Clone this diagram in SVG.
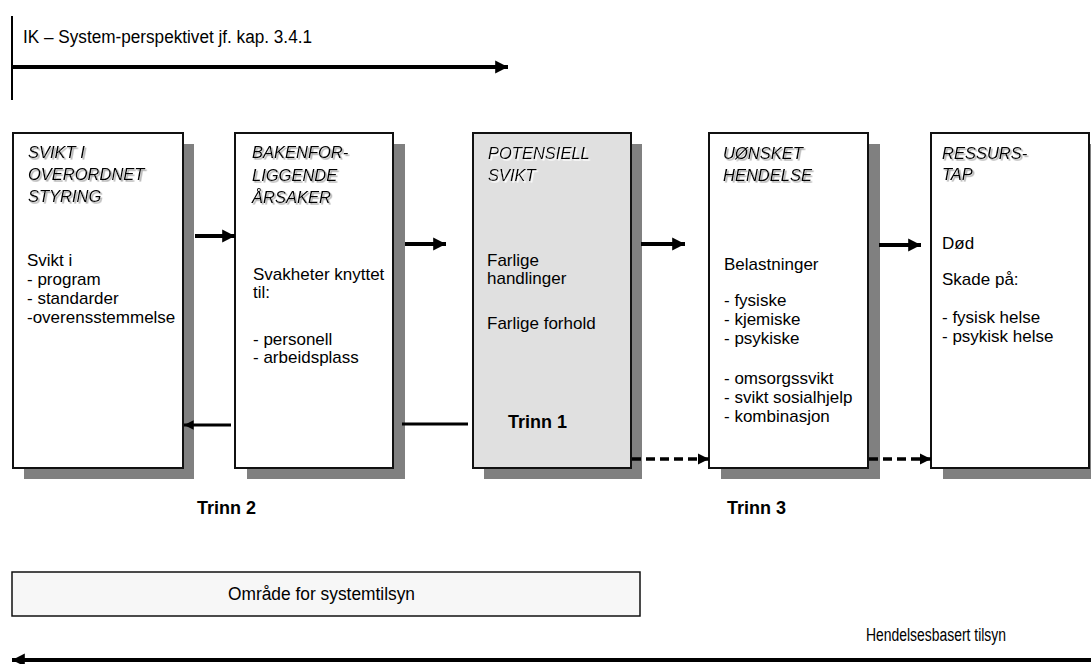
<svg xmlns="http://www.w3.org/2000/svg" width="1091" height="664" viewBox="0 0 1091 664">
  <defs>
    <marker id="head" viewBox="0 0 10 10" refX="10" refY="5" markerWidth="3.2" markerHeight="3.6" markerUnits="strokeWidth" orient="auto">
      <path d="M0,0 L10,5 L0,10 Z" fill="#000"/>
    </marker>
    <filter id="ts" x="-5%" y="-20%" width="115%" height="160%">
      <feDropShadow dx="1.6" dy="1.6" stdDeviation="0.5" flood-color="#a8a8a8"/>
    </filter>
    <filter id="tsw" x="-5%" y="-20%" width="115%" height="160%">
      <feDropShadow dx="1.6" dy="1.6" stdDeviation="0.5" flood-color="#ffffff"/>
    </filter>
  </defs>
  <style>
    text { font-family: "Liberation Sans", Arial, sans-serif; fill: #000; }
    .title { font-size: 16.5px; font-style: italic; filter: url(#ts); }
    .title-w { font-size: 16.5px; font-style: italic; filter: url(#tsw); }
    .body { font-size: 17px; }
    .step { font-size: 18px; font-weight: bold; }
    .label { font-size: 18px; }
    .shadow { fill: #808080; }
    .box { fill: #ffffff; stroke: #111; stroke-width: 2; }
    .box-grey { fill: #e0e0e0; stroke: #111; stroke-width: 2; }
    .arrow { stroke: #000; stroke-width: 4; fill: none; }
    .back { stroke: #000; stroke-width: 3; fill: none; }
    .dash { stroke: #000; stroke-width: 3.5; fill: none; stroke-dasharray: 9 5; }
  </style>
  <rect width="1091" height="664" fill="#fff"/>

  <!-- header: system perspective axis -->
  <g id="header">
    <line x1="12" y1="16" x2="12" y2="100" stroke="#000" stroke-width="2"/>
    <text x="23" y="43" class="label" textLength="289" lengthAdjust="spacingAndGlyphs">IK – System-perspektivet jf. kap. 3.4.1</text>
    <line x1="12" y1="67" x2="508" y2="67" class="arrow" marker-end="url(#head)"/>
  </g>

  <!-- stage boxes -->
  <g id="node-svikt">
    <rect x="24" y="144" width="170" height="335" class="shadow"/>
    <rect x="13" y="133" width="170" height="335" class="box"/>
    <text class="title"><tspan x="28" y="158">SVIKT I</tspan><tspan x="28" y="180">OVERORDNET</tspan><tspan x="28" y="202">STYRING</tspan></text>
    <text class="body"><tspan x="27" y="266">Svikt i</tspan><tspan x="27" y="285">- program</tspan><tspan x="27" y="304">- standarder</tspan><tspan x="27" y="323">-overensstemmelse</tspan></text>
  </g>

  <g id="node-bakenforliggende">
    <rect x="247" y="144" width="158" height="335" class="shadow"/>
    <rect x="235" y="133" width="158" height="335" class="box"/>
    <text class="title"><tspan x="252" y="158">BAKENFOR-</tspan><tspan x="252" y="181">LIGGENDE</tspan><tspan x="252" y="203">ÅRSAKER</tspan></text>
    <text class="body"><tspan x="253" y="280">Svakheter knyttet</tspan><tspan x="253" y="298">til:</tspan><tspan x="253" y="345">- personell</tspan><tspan x="253" y="363">- arbeidsplass</tspan></text>
  </g>

  <g id="node-potensiell">
    <rect x="484" y="144" width="158" height="335" class="shadow"/>
    <rect x="473" y="133" width="158" height="335" class="box-grey"/>
    <text class="title-w"><tspan x="488" y="159">POTENSIELL</tspan><tspan x="488" y="181">SVIKT</tspan></text>
    <text class="body"><tspan x="487" y="266">Farlige</tspan><tspan x="487" y="284">handlinger</tspan><tspan x="487" y="329">Farlige forhold</tspan></text>
    <text x="508" y="428" class="step">Trinn 1</text>
  </g>

  <g id="node-uonsket">
    <rect x="721" y="144" width="159" height="335" class="shadow"/>
    <rect x="709" y="133" width="159" height="335" class="box"/>
    <text class="title"><tspan x="723" y="159">UØNSKET</tspan><tspan x="723" y="181">HENDELSE</tspan></text>
    <text class="body"><tspan x="724" y="270">Belastninger</tspan><tspan x="724" y="306">- fysiske</tspan><tspan x="724" y="325">- kjemiske</tspan><tspan x="724" y="344">- psykiske</tspan><tspan x="724" y="384">- omsorgssvikt</tspan><tspan x="724" y="403">- svikt sosialhjelp</tspan><tspan x="724" y="422">- kombinasjon</tspan></text>
  </g>

  <g id="node-ressurstap">
    <rect x="943" y="144" width="158" height="335" class="shadow"/>
    <rect x="931" y="133" width="158" height="335" class="box"/>
    <text class="title"><tspan x="942" y="159">RESSURS-</tspan><tspan x="942" y="180">TAP</tspan></text>
    <text class="body"><tspan x="942" y="249">Død</tspan><tspan x="942" y="285">Skade på:</tspan><tspan x="942" y="323">- fysisk helse</tspan><tspan x="942" y="342">- psykisk helse</tspan></text>
  </g>

  <!-- connectors between stages -->
  <g id="connectors">
    <line x1="195" y1="236" x2="235" y2="236" class="arrow" marker-end="url(#head)"/>
    <line x1="405" y1="244" x2="446" y2="244" class="arrow" marker-end="url(#head)"/>
    <line x1="641" y1="244" x2="685" y2="244" class="arrow" marker-end="url(#head)"/>
    <line x1="879" y1="245" x2="921" y2="245" class="arrow" marker-end="url(#head)"/>
    <line x1="231" y1="425" x2="184" y2="425" class="back" marker-end="url(#head)"/>
    <line x1="402" y1="424" x2="468" y2="424" class="back"/>
    <line x1="632" y1="459" x2="709" y2="459" class="dash" marker-end="url(#head)"/>
    <line x1="869" y1="459" x2="931" y2="459" class="dash" marker-end="url(#head)"/>
  </g>

  <!-- step labels -->
  <g id="steps">
    <text x="197" y="514" class="step">Trinn 2</text>
    <text x="727" y="514" class="step">Trinn 3</text>
  </g>

  <!-- supervision scope -->
  <g id="node-systemtilsyn">
    <rect x="12" y="572" width="628" height="44" fill="#f7f7f7" stroke="#111" stroke-width="1.5"/>
    <text x="228" y="600" class="label" font-size="17" textLength="187" lengthAdjust="spacingAndGlyphs">Område for systemtilsyn</text>
  </g>

  <g id="event-axis">
    <text x="866" y="641" class="label" font-size="16" textLength="140" lengthAdjust="spacingAndGlyphs">Hendelsesbasert tilsyn</text>
    <line x1="1091" y1="660" x2="12" y2="660" class="arrow" marker-end="url(#head)"/>
  </g>
</svg>
